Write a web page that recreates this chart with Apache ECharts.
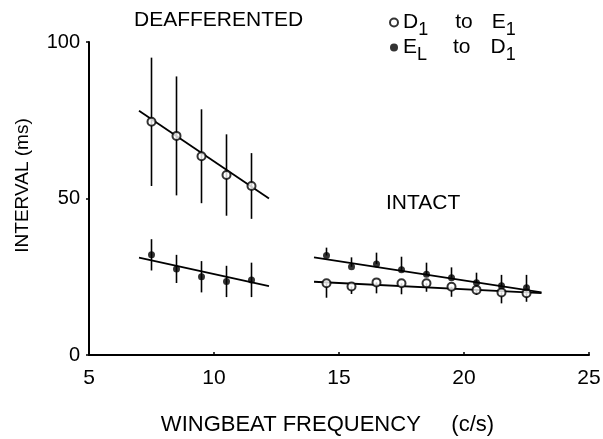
<!DOCTYPE html>
<html>
<head>
<meta charset="utf-8">
<script src="https://cdn.jsdelivr.net/npm/echarts@6/dist/echarts.min.js"></script>
<style>
  html, body { margin: 0; padding: 0; background: #fff; }
  #chart { width: 603px; height: 439px; }
</style>
</head>
<body>
<div id="chart"></div>
<script>
// Wingbeat frequency (c/s) for each group of flights
const deafFreq = [7.5, 8.5, 9.5, 10.5, 11.5];
const intactFreq = [14.5, 15.5, 16.5, 17.5, 18.5, 19.5, 20.5, 21.5, 22.5];

// Deafferented: mean intervals (ms) and standard deviations
const deafD1E1 = [74.5, 70, 63.5, 57.5, 54];
const deafD1E1Sd = [20.5, 19, 15, 13, 10.5];
const deafELD1 = [32, 27.5, 25, 23.5, 24];
const deafELD1Sd = [5, 4.5, 5, 5, 5.5];

// Intact: mean intervals (ms); EL->D1 bars drawn upward, D1->E1 bars downward
const intactELD1 = [31.8, 28.2, 29.1, 27.2, 25.8, 24.7, 23.1, 22.1, 21.5];
const intactELD1Sd = [2.5, 3, 3.6, 4.2, 3.7, 3.3, 3.2, 3.5, 4.1];
const intactD1E1 = [22.9, 21.9, 23.2, 22.9, 22.9, 21.8, 20.8, 20.0, 19.7];
const intactD1E1Sd = [4.6, 2.4, 3.5, 3.5, 2.7, 3.2, 1.6, 3.5, 2.7];

// Regression line end points [frequency, interval]
const deafD1E1Fit = [[7, 78], [12.2, 50]];
const deafELD1Fit = [[7, 31.1], [12.2, 22]];
const intactELD1Fit = [[14, 31.2], [23.1, 20]];
const intactD1E1Fit = [[14, 23.4], [23.1, 19.8]];

// Axis ticks
const xTicks = { min: 5, max: 25, step: 5 };
const yTicks = { min: 0, max: 100, step: 50 };

const FONT = '"Liberation Sans", Arial, Helvetica, sans-serif';
const INK = '#000';

const pairs = (xs, ys) => xs.map((x, i) => [x, ys[i]]);
// [x, low, high] rows for the error bar series
const bars = (xs, ys, sd, up, down) =>
  xs.map((x, i) => [x, ys[i] - (down ? sd[i] : 0), ys[i] + (up ? sd[i] : 0)]);

function errorBarSeries(data) {
  return {
    type: 'custom',
    silent: true,
    z: 1,
    data: data,
    renderItem: function (params, api) {
      const lo = api.coord([api.value(0), api.value(1)]);
      const hi = api.coord([api.value(0), api.value(2)]);
      return {
        type: 'line',
        shape: { x1: lo[0], y1: lo[1], x2: hi[0], y2: hi[1] },
        style: { stroke: INK, lineWidth: 1.6 }
      };
    }
  };
}

function fitSeries(data) {
  return {
    type: 'line',
    data: data,
    symbol: 'none',
    silent: true,
    z: 2,
    lineStyle: { color: INK, width: 1.8 }
  };
}

const openStyle = { color: '#fff', borderColor: INK, borderWidth: 2 };
const filledStyle = { color: INK, borderColor: INK, borderWidth: 0 };

// Legend text: main letters centred in a 33px line, subscripts sit at its bottom
const LINE = 33;
const gap = (w) => ({ fontSize: 21, lineHeight: LINE, width: w });

const chart = echarts.init(document.getElementById('chart'), null, { renderer: 'canvas' });

chart.setOption({
  animation: false,
  backgroundColor: '#fff',
  textStyle: { fontFamily: FONT, color: INK },
  title: [
    { text: 'DEAFFERENTED', left: 129, top: 5,
      textStyle: { fontFamily: FONT, fontSize: 21, fontWeight: 'normal', color: INK } },
    { text: 'INTACT', left: 381, top: 188,
      textStyle: { fontFamily: FONT, fontSize: 21, fontWeight: 'normal', color: INK } }
  ],
  legend: {
    orient: 'vertical',
    left: 384,
    top: 7,
    itemGap: -2,
    itemWidth: 8,
    itemHeight: 8,
    icon: 'circle',
    selectedMode: false,
    data: ['D1 to E1', 'EL to D1'],
    formatter: function (name) {
      if (name === 'D1 to E1') return '{m|D}{s|1}{g| }{m|to}{h| }{m|E}{s|1}';
      return '{m|E}{s|L}{g2| }{m|to}{h2| }{m|D}{s|1}';
    },
    textStyle: {
      rich: {
        m: { fontFamily: FONT, fontSize: 21, lineHeight: LINE, verticalAlign: 'middle', color: INK },
        s: { fontFamily: FONT, fontSize: 18, lineHeight: 18, verticalAlign: 'bottom', color: INK },
        g: gap(27),
        h: gap(19),
        g2: gap(26),
        h2: gap(20)
      }
    }
  },
  grid: { left: 89, right: 14, top: 42, bottom: 84, containLabel: false, outerBoundsMode: 'none' },
  xAxis: {
    type: 'value',
    min: xTicks.min, max: xTicks.max, interval: xTicks.step,
    name: 'WINGBEAT FREQUENCY     (c/s)',
    nameLocation: 'middle',
    nameGap: 59,
    nameMoveOverlap: false,
    nameTextStyle: { fontFamily: FONT, fontSize: 22, color: INK, padding: [0, 23, 0, 0] },
    axisLine: { lineStyle: { color: INK, width: 2 } },
    axisTick: { show: true, length: 3, inside: true, lineStyle: { color: INK, width: 1.5 } },
    axisLabel: { fontFamily: FONT, fontSize: 21, color: INK, margin: 13 },
    splitLine: { show: false }
  },
  yAxis: {
    type: 'value',
    min: yTicks.min, max: yTicks.max, interval: yTicks.step,
    name: 'INTERVAL (ms)',
    nameLocation: 'middle',
    nameGap: 57,
    nameMoveOverlap: false,
    nameRotate: 90,
    nameTextStyle: { fontFamily: FONT, fontSize: 19, color: INK, padding: [0, 0, 0, 26] },
    axisLine: { show: true, lineStyle: { color: INK, width: 2 } },
    axisTick: { show: true, length: 3, lineStyle: { color: INK, width: 1.5 } },
    axisLabel: { fontFamily: FONT, fontSize: 20, color: INK, margin: 9 },
    splitLine: { show: false }
  },
  series: [
    errorBarSeries(bars(deafFreq, deafD1E1, deafD1E1Sd, true, true)),
    errorBarSeries(bars(deafFreq, deafELD1, deafELD1Sd, true, true)),
    errorBarSeries(bars(intactFreq, intactELD1, intactELD1Sd, true, false)),
    errorBarSeries(bars(intactFreq, intactD1E1, intactD1E1Sd, false, true)),
    fitSeries(deafD1E1Fit),
    fitSeries(deafELD1Fit),
    fitSeries(intactELD1Fit),
    fitSeries(intactD1E1Fit),
    {
      name: 'D1 to E1', type: 'scatter', z: 3, symbol: 'circle', symbolSize: 8,
      itemStyle: openStyle,
      data: pairs(deafFreq, deafD1E1).concat(pairs(intactFreq, intactD1E1))
    },
    {
      name: 'EL to D1', type: 'scatter', z: 3, symbol: 'circle', symbolSize: 7,
      itemStyle: filledStyle,
      data: pairs(deafFreq, deafELD1).concat(pairs(intactFreq, intactELD1))
    }
  ]
});
</script>
</body>
</html>
